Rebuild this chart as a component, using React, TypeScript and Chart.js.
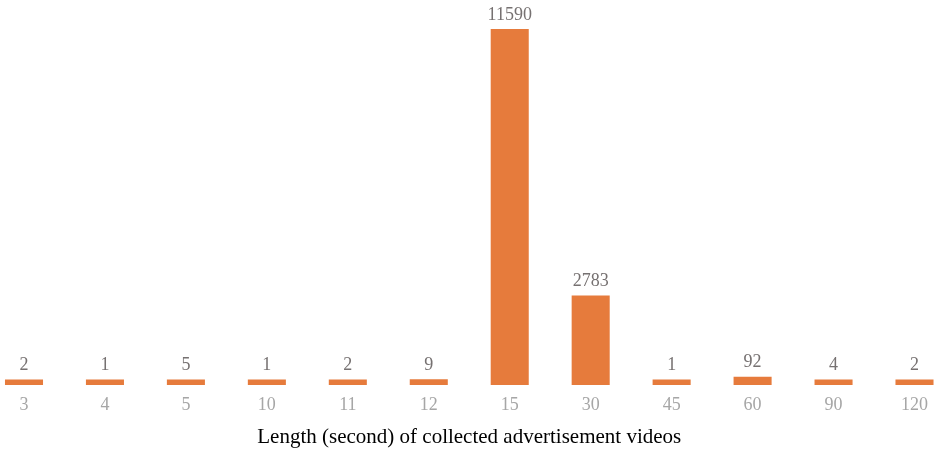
import React, { useEffect, useRef } from "react";
import { Chart, registerables } from "chart.js";

Chart.register(...registerables);

const categories = ["3", "4", "5", "10", "11", "12", "15", "30", "45", "60", "90", "120"];
const counts = [2, 1, 5, 1, 2, 9, 11590, 2783, 1, 92, 4, 2];
const axisTitle = "Length (second) of collected advertisement videos";
const axisFloor = -180;
const axisCeil = 11590;

const SERIF = "'Liberation Serif', 'Times New Roman', serif";

const valueLabels = {
  id: "valueLabels",
  afterDatasetsDraw(chart: any) {
    const ctx = chart.ctx;
    const meta = chart.getDatasetMeta(0);
    ctx.save();
    ctx.fillStyle = "#767171";
    ctx.font = `18px ${SERIF}`;
    ctx.textAlign = "center";
    ctx.textBaseline = "alphabetic";
    meta.data.forEach((bar: any, i: number) => {
      ctx.fillText(String(counts[i]), bar.x, bar.y - 9.5);
    });
    ctx.restore();
  },
};

export default function App() {
  const ref = useRef<HTMLCanvasElement | null>(null);
  useEffect(() => {
    if (!ref.current) return;
    const chart = new Chart(ref.current, {
      type: "bar",
      data: {
        labels: categories,
        datasets: [
          {
            data: counts,
            backgroundColor: "#E67B3C",
            base: axisFloor,
            barPercentage: 0.47,
            categoryPercentage: 1,
            clip: false as any,
          },
        ],
      },
      options: {
        animation: false,
        responsive: true,
        maintainAspectRatio: false,
        layout: { padding: { left: 24, right: 19.5, top: 29, bottom: 1.2 } },
        plugins: { legend: { display: false }, tooltip: { enabled: false } },
        scales: {
          x: {
            offset: false,
            grid: { display: false, drawTicks: false },
            border: { display: false },
            afterFit: (scale: any) => {
              scale.paddingLeft = 0;
              scale.paddingRight = 0;
            },
            ticks: {
              color: "#A6A6A6",
              font: { family: SERIF, size: 18 },
              padding: 9,
              maxRotation: 0,
              autoSkip: false,
            },
            title: {
              display: true,
              text: axisTitle,
              color: "#000000",
              font: { family: SERIF, size: 21 },
              padding: { top: 0, bottom: 0 },
            },
          },
          y: {
            display: false,
            min: axisFloor,
            max: axisCeil,
          },
        },
      },
      plugins: [valueLabels],
    });
    return () => chart.destroy();
  }, []);
  return (
    <div style={{ position: "fixed", left: 0, top: 0, width: 934, height: 451 }}>
      <canvas ref={ref} />
    </div>
  );
}
